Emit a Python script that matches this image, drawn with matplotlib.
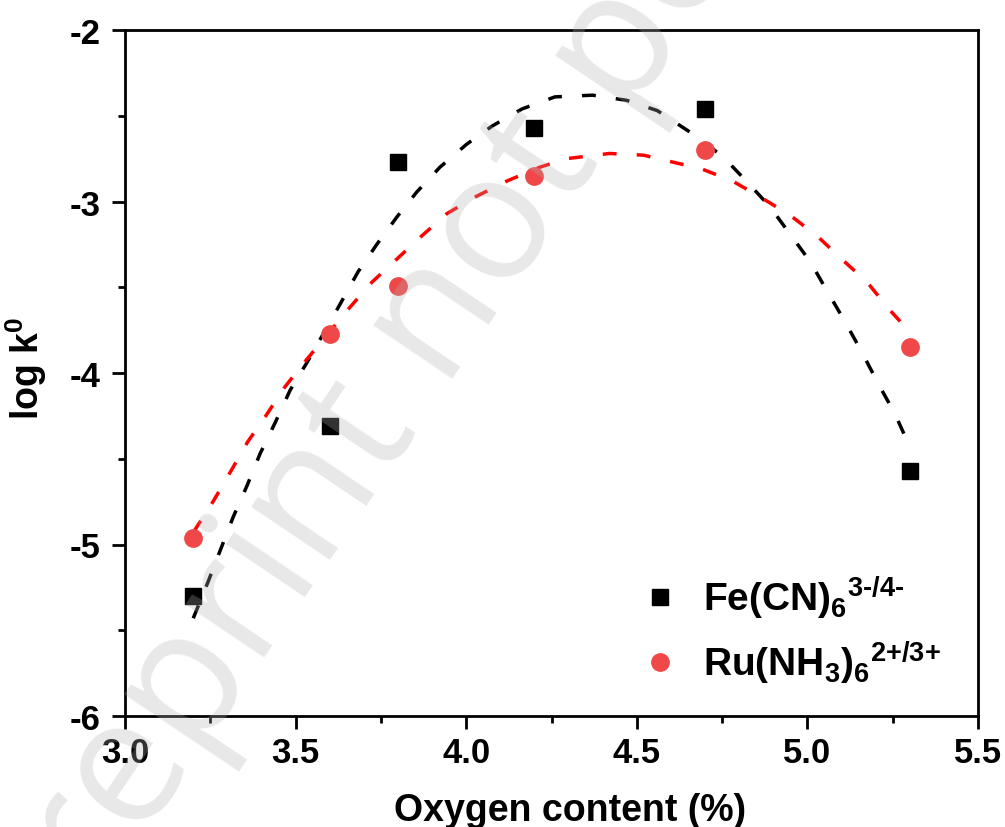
import numpy as np
import matplotlib
matplotlib.use("Agg")
import matplotlib.pyplot as plt

plt.rcParams["font.family"] = ["Liberation Sans", "DejaVu Sans"]
plt.rcParams["mathtext.fontset"] = "custom"
plt.rcParams["mathtext.rm"] = "Liberation Sans:bold"
plt.rcParams["mathtext.bf"] = "Liberation Sans:bold"
plt.rcParams["mathtext.it"] = "Liberation Sans:bold"
plt.rcParams["mathtext.default"] = "rm"

# measured points
oxygen = [3.2, 3.6, 3.8, 4.2, 4.7, 5.3]
logk_fe = [-5.30, -4.31, -2.77, -2.57, -2.46, -4.57]
logk_ru = [-4.96, -3.77, -3.49, -2.85, -2.70, -3.85]

# fitted curves
fit_x_fe = [3.2, 3.243, 3.278, 3.317, 3.357, 3.396, 3.44, 3.484, 3.533, 3.586, 3.63,
            3.683, 3.738, 3.797, 3.855, 3.923, 4.002, 4.076, 4.164, 4.26, 4.37, 4.47,
            4.56, 4.69, 4.758, 4.823, 4.89, 4.949, 5.008, 5.06, 5.11, 5.16, 5.207, 5.257, 5.3]
fit_y_fe = [-5.43, -5.22, -5.04, -4.84, -4.66, -4.47, -4.29, -4.10, -3.94, -3.755, -3.60,
            -3.41, -3.25, -3.09, -2.945, -2.80, -2.665, -2.56, -2.46, -2.39, -2.38, -2.41,
            -2.47, -2.64, -2.75, -2.885, -3.03, -3.19, -3.35, -3.53, -3.70, -3.88, -4.06, -4.24, -4.43]
fit_x_ru = [3.2, 3.258, 3.308, 3.36, 3.416, 3.469, 3.533, 3.6, 3.66, 3.724, 3.797, 3.87,
            3.944, 4.03, 4.12, 4.216, 4.295, 4.42, 4.52, 4.69, 4.78, 4.867, 4.949, 5.028,
            5.10, 5.175, 5.24, 5.3]
fit_y_ru = [-4.93, -4.75, -4.58, -4.40, -4.24, -4.08, -3.92, -3.76, -3.615, -3.47, -3.335, -3.20,
            -3.07, -2.97, -2.88, -2.80, -2.75, -2.72, -2.73, -2.81, -2.88, -2.98, -3.08, -3.20,
            -3.335, -3.47, -3.63, -3.76]

W, H = 1005, 828
fig = plt.figure(figsize=(W / 100, H / 100), dpi=100)
ax = fig.add_axes([125 / W, 1 - 717 / H, (978 - 125) / W, (717 - 31) / H])

dash = (0, (4.0, 5.8))
ax.plot(fit_x_fe, fit_y_fe, color="black", ls=dash, lw=2.5, dash_capstyle="butt", zorder=2)
ax.plot(fit_x_ru, fit_y_ru, color="#ff0000", ls=dash, lw=2.5, dash_capstyle="butt", zorder=2)
ax.plot(oxygen, logk_fe, "s", color="black", ms=11.3, ls="none", zorder=3,
        label=r"Fe(CN)$_{6}$$^{\text{3-/4-}}$")
ax.plot(oxygen, logk_ru, "o", color="#f04848", ms=12.5, ls="none", zorder=3,
        label=r"Ru(NH$_{3}$)$_{6}$$^{\text{2+/3+}}$")

ax.set_xlim(3.0, 5.5)
ax.set_ylim(-6, -2)
ax.set_xticks([3.0, 3.5, 4.0, 4.5, 5.0, 5.5])
ax.set_xticklabels(["3.0", "3.5", "4.0", "4.5", "5.0", "5.5"])
ax.set_yticks([-6, -5, -4, -3, -2])
ax.set_yticklabels(["-6", "-5", "-4", "-3", "-2"])
ax.set_xticks(np.arange(3.25, 5.5, 0.5), minor=True)
ax.set_yticks(np.arange(-5.5, -2, 1.0), minor=True)
ax.tick_params(which="major", direction="out", length=9.4, width=2, labelsize=25)
ax.tick_params(which="minor", direction="out", length=5, width=2)
ax.tick_params(axis="x", which="major", pad=5)
ax.tick_params(axis="y", which="major", pad=8)
ax.tick_params(top=False, right=False)
for lab in ax.get_xticklabels() + ax.get_yticklabels():
    lab.set_fontweight("bold")
for s in ax.spines.values():
    s.set_linewidth(2)

ax.set_xlabel("Oxygen content (%)", fontsize=27, fontweight="bold")
ax.xaxis.set_label_coords((570 - 125) / 853, -(793 - 717) / 686)
ax.set_ylabel("log k$^{0}$", fontsize=27, fontweight="bold")
ax.yaxis.set_label_coords((49 - 125) / 853, (717 - 368) / 686)

leg = ax.legend(loc="lower left", bbox_to_anchor=((641 - 125) / 853, (717 - 687) / 686),
                frameon=False, prop={"size": 28, "weight": "bold"}, handlelength=1.0,
                handletextpad=0.6, labelspacing=0.45, borderpad=0, borderaxespad=0)

# "preprint not peer reviewed" watermark, semi-transparent overlay
fig.text(38 / W, 1 - 993 / H, "preprint not peer reviewed", family="Open Sans",
         fontsize=128, color="#b0b0b0", alpha=0.29, rotation=56,
         rotation_mode="anchor", ha="left", va="baseline", zorder=10)

fig.savefig("out.png", dpi=100)
